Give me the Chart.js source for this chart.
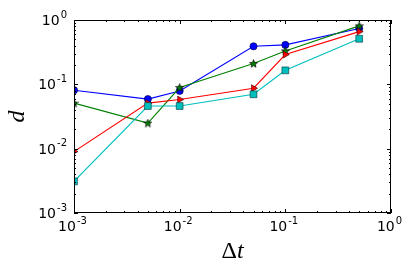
<!DOCTYPE html>
<html>
<head>
<meta charset="utf-8">
<script src="https://cdn.jsdelivr.net/npm/chart.js@4/dist/chart.umd.min.js"></script>
<style>
  html, body { margin: 0; padding: 0; background: #fff; }
  #wrap { width: 415px; height: 277px; }
</style>
</head>
<body>
<div id="wrap"><canvas id="logChart" width="415" height="277"></canvas></div>
<script>
// time step values (x) and measured d for each run
let dtValues = [0.001, 0.005, 0.01, 0.05, 0.1, 0.5];

let blueD  = [0.081, 0.059, 0.079, 0.39, 0.41, 0.74];
let greenD = [0.051, 0.025, 0.089, 0.21, 0.33, 0.81];
let redD   = [0.009, 0.051, 0.058, 0.087, 0.29, 0.66];
let cyanD  = [0.0031, 0.046, 0.046, 0.070, 0.165, 0.51];

// decade exponents used for tick labels on both axes
let decades = [-3, -2, -1, 0];

function toPoints(ys) {
    return dtValues.map((x, i) => ({ x: x, y: ys[i] }));
}

// small 5 point star for the green series
function makeStar() {
    const c = document.createElement('canvas');
    c.width = 9; c.height = 9;
    const g = c.getContext('2d');
    g.beginPath();
    for (let i = 0; i < 10; i++) {
        const r = i % 2 === 0 ? 4.2 : 1.8;
        const a = -Math.PI / 2 + i * Math.PI / 5;
        const px = 4.5 + r * Math.cos(a), py = 4.8 + r * Math.sin(a);
        if (i === 0) g.moveTo(px, py); else g.lineTo(px, py);
    }
    g.closePath();
    g.fillStyle = '#008000';
    g.fill();
    g.lineWidth = 0.7;
    g.strokeStyle = '#000';
    g.stroke();
    return c;
}

const starImg = makeStar();

// inward ticks, frame and math style labels like matplotlib
const axesDecor = {
    id: 'axesDecor',
    afterDatasetsDraw(chart) {
        const { ctx, chartArea: a, scales: { x, y } } = chart;
        ctx.save();
        ctx.strokeStyle = '#000';
        ctx.lineWidth = 1;
        ctx.beginPath();
        for (let k = -3; k <= 0; k++) {
            for (let m = 1; m <= 9; m++) {
                if (k === 0 && m > 1) break;
                const v = m * Math.pow(10, k);
                const len = m === 1 ? 4 : 2;
                const px = Math.round(x.getPixelForValue(v)) + 0.5;
                ctx.moveTo(px, a.bottom); ctx.lineTo(px, a.bottom - len);
                ctx.moveTo(px, a.top); ctx.lineTo(px, a.top + len);
                const py = Math.round(y.getPixelForValue(v)) + 0.5;
                ctx.moveTo(a.left, py); ctx.lineTo(a.left + len, py);
                ctx.moveTo(a.right, py); ctx.lineTo(a.right - len, py);
            }
        }
        ctx.stroke();
        ctx.strokeRect(a.left + 0.5, a.top + 0.5, a.right - a.left - 1, a.bottom - a.top - 1);

        ctx.fillStyle = '#000';
        ctx.textBaseline = 'alphabetic';
        ctx.textAlign = 'left';
        const big = '14px "DejaVu Sans"', small = '10px "DejaVu Sans"';
        decades.forEach(k => {
            const exp = k < 0 ? '-' + (-k) : String(k);
            ctx.font = big; const w1 = ctx.measureText('10').width;
            ctx.font = small; const w2 = ctx.measureText(exp).width;
            // x axis label
            const cx = x.getPixelForValue(Math.pow(10, k));
            let sx = cx - (w1 + w2) / 2 - 2;
            ctx.font = big; ctx.fillText('10', sx, a.bottom + 18);
            ctx.font = small; ctx.fillText(exp, sx + w1 + 1, a.bottom + 11);
            // y axis label
            const cy = y.getPixelForValue(Math.pow(10, k));
            sx = a.left - 7 - (w1 + w2 + 1);
            ctx.font = big; ctx.fillText('10', sx, cy + 5);
            ctx.font = small; ctx.fillText(exp, sx + w1 + 1, cy - 2.5);
        });

        // axis titles
        const midX = (a.left + a.right) / 2;
        ctx.font = '24px "Liberation Serif"';
        const wd = ctx.measureText('\u0394').width;
        ctx.font = 'italic 24px "Liberation Serif"';
        const wt = ctx.measureText('t').width;
        const tx = midX - (wd + wt) / 2;
        ctx.font = '24px "Liberation Serif"';
        ctx.fillText('\u0394', tx, 258);
        ctx.font = 'italic 24px "Liberation Serif"';
        ctx.fillText('t', tx + wd, 258);

        ctx.translate(24, (a.top + a.bottom) / 2);
        ctx.rotate(-Math.PI / 2);
        ctx.textAlign = 'center';
        ctx.fillText('d', 0, 0);
        ctx.restore();
    }
};

const data = {
    datasets: [
        {
            data: toPoints(blueD),
            borderColor: '#0000ff',
            backgroundColor: '#0000ff',
            pointStyle: 'circle',
            pointRadius: 3.6,
            pointBorderColor: '#000033',
            pointBorderWidth: 0.6,
            order: 4
        },
        {
            data: toPoints(greenD),
            borderColor: '#008000',
            backgroundColor: '#008000',
            pointStyle: starImg,
            order: 3
        },
        {
            data: toPoints(redD),
            borderColor: '#ff0000',
            backgroundColor: '#ff0000',
            pointStyle: 'triangle',
            pointRotation: 90,
            pointRadius: 4,
            pointBorderColor: '#330000',
            pointBorderWidth: 0.6,
            order: 2
        },
        {
            data: toPoints(cyanD),
            borderColor: '#00bfbf',
            backgroundColor: '#00bfbf',
            pointStyle: 'rect',
            pointRadius: 4.8,
            pointBorderColor: '#003333',
            pointBorderWidth: 0.6,
            order: 1
        }
    ]
};

const config = {
    type: 'line',
    data: data,
    options: {
        responsive: false,
        animation: false,
        devicePixelRatio: 1,
        layout: { padding: { left: 0, right: 24, top: 20, bottom: 0 } },
        elements: {
            line: { borderWidth: 1.1, tension: 0 }
        },
        datasets: { line: { clip: 0 } },
        plugins: {
            legend: { display: false },
            tooltip: { enabled: false }
        },
        scales: {
            x: {
                type: 'logarithmic',
                min: 0.001,
                max: 1,
                ticks: { display: false },
                grid: { display: false },
                border: { display: false },
                afterFit: s => { s.height = 64; }
            },
            y: {
                type: 'logarithmic',
                min: 0.001,
                max: 1,
                ticks: { display: false },
                grid: { display: false },
                border: { display: false },
                afterFit: s => { s.width = 74; }
            }
        }
    },
    plugins: [axesDecor]
};

const chart = new Chart(document.getElementById('logChart'), config);
</script>
</body>
</html>
